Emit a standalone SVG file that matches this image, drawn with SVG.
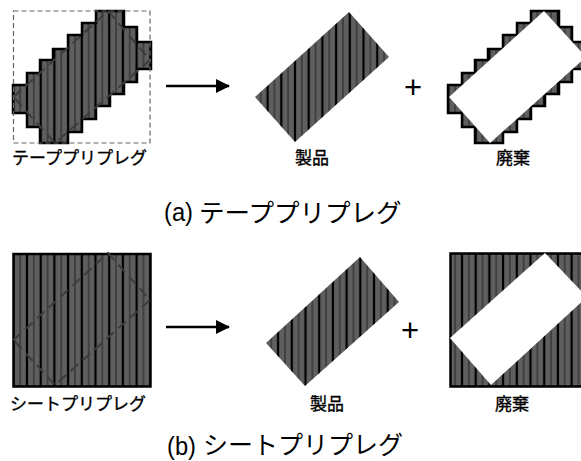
<svg xmlns="http://www.w3.org/2000/svg" width="581" height="461" viewBox="0 0 581 461">
<style>
text{font-family:"Noto Sans CJK JP","Liberation Sans",sans-serif;fill:#000}
.lab{font-size:17px;font-weight:400;stroke:#000;stroke-width:.35}
.cap{font-size:25.5px}
.capl{font-size:25px;font-family:"Liberation Sans",sans-serif}
.plus{font-size:31px;font-family:"Liberation Sans",sans-serif;text-anchor:middle}
.dash{fill:none;stroke:#3c3c3c;stroke-width:2;stroke-dasharray:10 6}
.bdash{fill:none;stroke:#666;stroke-width:1.2;stroke-dasharray:5 3}
.conn{stroke:#000;stroke-width:2.5;fill:none}
</style>
<defs>
<g id="cell"><rect width="13.7" height="10" fill="#5f5f5f"/><rect x="0" width="1.1" height="10" fill="#000"/><rect x="12.6" width="1.1" height="10" fill="#000"/><rect x="6.35" width="1" height="10" fill="#222"/></g>
<pattern id="st" patternUnits="userSpaceOnUse" x="13.300" y="0" width="13.7" height="10"><use href="#cell"/></pattern>
<pattern id="stw" patternUnits="userSpaceOnUse" x="448.300" y="0" width="13.7" height="10"><use href="#cell"/></pattern>
<pattern id="stp1" patternUnits="userSpaceOnUse" x="295" y="0" width="13.7" height="10"><use href="#cell"/></pattern>
<pattern id="stp2" patternUnits="userSpaceOnUse" x="305.500" y="0" width="13.7" height="10"><use href="#cell"/></pattern>
<marker id="ah" markerUnits="userSpaceOnUse" markerWidth="14" markerHeight="14" refX="13" refY="7" orient="auto"><path d="M0 0L14 7L0 14Z" fill="#000"/></marker>
<path id="stair" d="M13 85H27V73H40V60H53V49H68V35H82V23H96V11H124V27H137V42H151V69H137V82H124V94H110V106H96V119H82V132H68V143H40V127H27V113H13Z"/>
</defs>
<g id="tape-prepreg">
<use href="#stair" fill="url(#st)" stroke="#000" stroke-width="2.5"/>
<path class="dash" d="M13.5 97L108 11L150 60L55 143Z"/>
<rect x="13.5" y="11" width="136.500" height="132" class="bdash"/>
<text class="lab" x="12" y="164">テーププリプレグ</text>
</g>
<g id="tape-product">
<path d="M349 12L389 57L295 142L255 97Z" fill="url(#stp1)"/>
<text class="lab" x="295" y="164">製品</text>
</g>
<g id="tape-waste">
<path d="M448 85H462V73H475V60H488V49H503V35H517V23H531V11H559V27H572V42H586V69H572V82H559V94H545V106H531V119H517V132H503V143H475V127H462V113H448Z" fill="url(#stw)" stroke="#000" stroke-width="2.5"/>
<path d="M449 97L544 11L586 57L490 143Z" fill="#fff"/>
<text class="lab" x="496" y="164">廃棄</text>
</g>
<g id="sheet-prepreg">
<rect x="13.500" y="254" width="137" height="132.500" fill="url(#st)" stroke="#000" stroke-width="2.500"/>
<path class="dash" d="M13.5 340L108 253L150 300L55 385Z"/>
<text class="lab" x="10" y="410">シートプリプレグ</text>
</g>
<g id="sheet-product">
<path d="M360 257L399 302L305 386L266 343Z" fill="url(#stp2)"/>
<text class="lab" x="310" y="410">製品</text>
</g>
<g id="sheet-waste">
<rect x="450.500" y="253.500" width="136" height="133" fill="url(#stw)" stroke="#000" stroke-width="2.500"/>
<path d="M450 338L545 253L587 297L491 385Z" fill="#fff"/>
<text class="lab" x="495" y="410">廃棄</text>
</g>
<g id="connectors">
<path class="conn" d="M166 86H229" marker-end="url(#ah)"/>
<path class="conn" d="M166 327H229" marker-end="url(#ah)"/>
</g>
<text class="plus" x="413" y="98">+</text>
<text class="plus" x="410" y="341">+</text>
<text class="capl" x="164" y="221" textLength="29" lengthAdjust="spacingAndGlyphs">(a)</text>
<text class="cap" x="199" y="222">テーププリプレグ</text>
<text class="capl" x="167" y="455" textLength="29" lengthAdjust="spacingAndGlyphs">(b)</text>
<text class="cap" x="203" y="453.500" style="font-size:25px">シートプリプレグ</text>
</svg>
